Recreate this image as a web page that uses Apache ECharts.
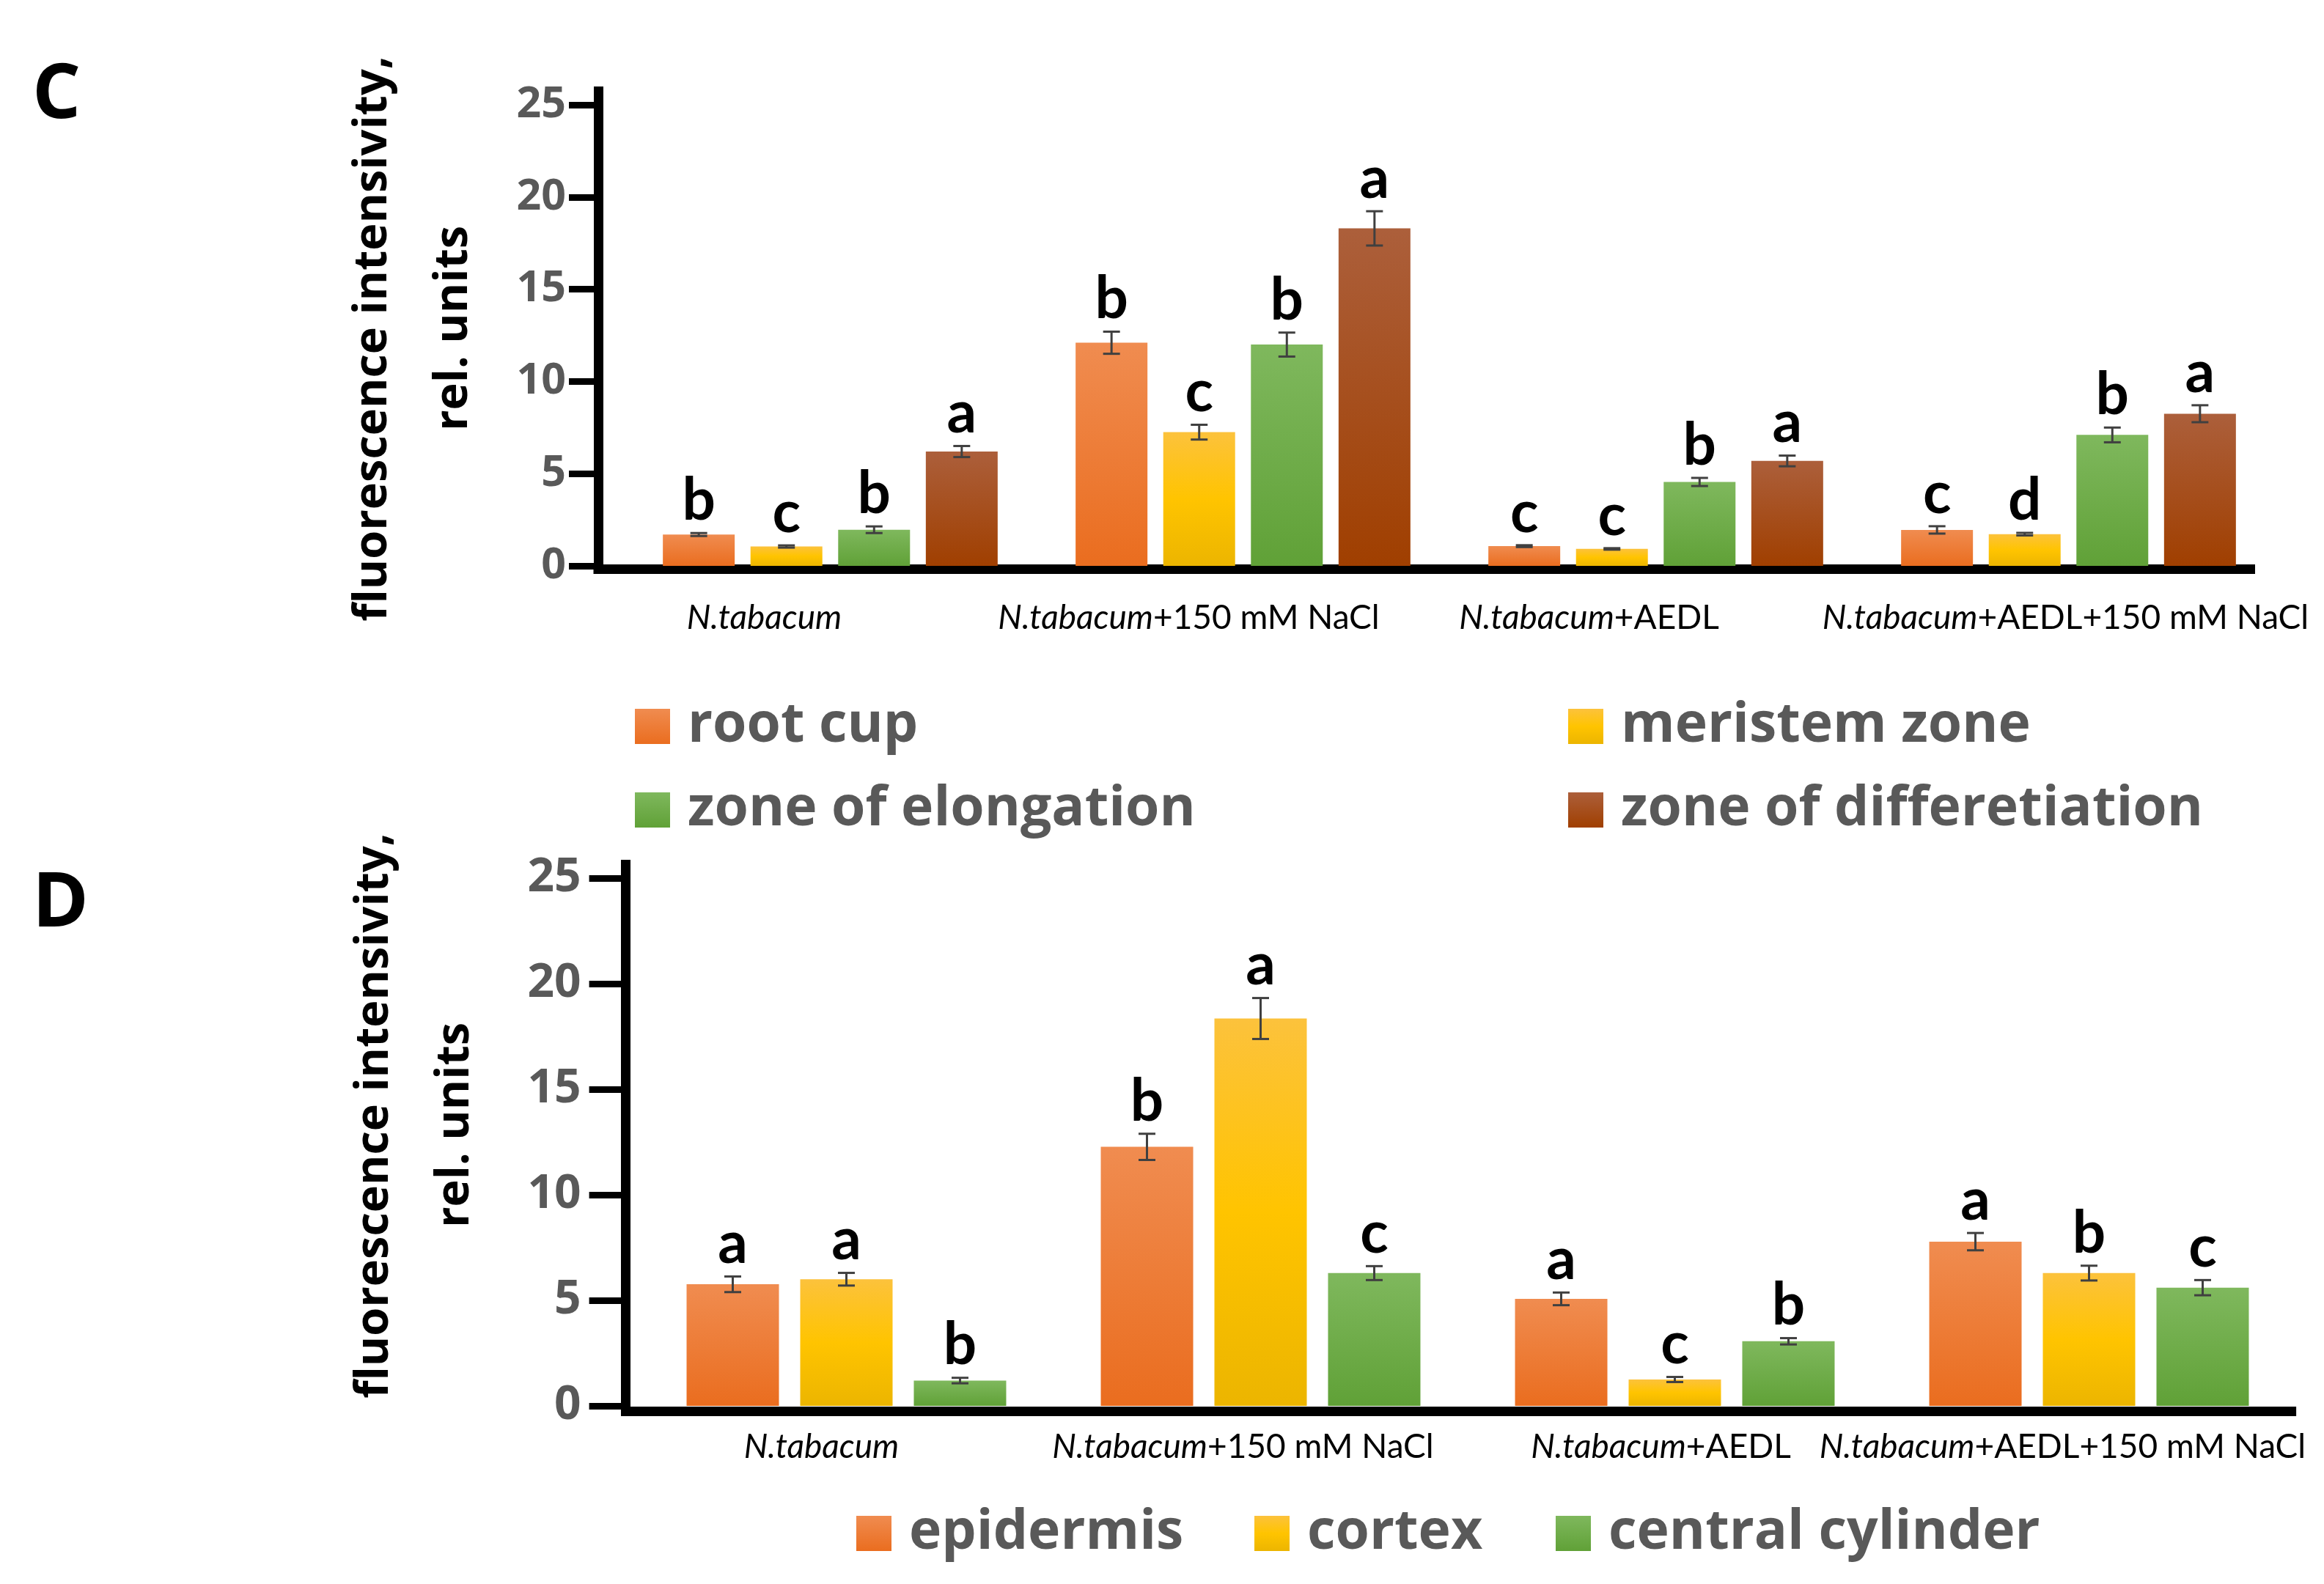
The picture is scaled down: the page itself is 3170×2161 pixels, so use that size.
<!DOCTYPE html>
<html>
<head>
<meta charset="utf-8">
<script src="https://cdn.jsdelivr.net/npm/echarts@6/dist/echarts.min.js"></script>
<style>html,body{margin:0;padding:0;background:#fff}#chart{width:3170px;height:2161px}</style>
</head>
<body>
<div id="chart"></div>
<script>
// ---------- DATA ----------
const categories = ['N.tabacum', 'N.tabacum+150 mM NaCl', 'N.tabacum+AEDL', 'N.tabacum+AEDL+150 mM NaCl'];
const yTicksMax = 25;
const yTickStep = 5;

// Panel C
const cNames = ['root cup', 'meristem zone', 'zone of elongation', 'zone of differetiation'];
const cRootCup = [1.7, 12.1, 1.07, 1.95];
const cRootCupErr = [0.08, 0.6, 0.05, 0.2];
const cRootCupLetters = ['b', 'b', 'c', 'c'];
const cMeristem = [1.05, 7.25, 0.92, 1.72];
const cMeristemErr = [0.06, 0.4, 0.04, 0.07];
const cMeristemLetters = ['c', 'c', 'c', 'd'];
const cElongation = [1.96, 12.0, 4.55, 7.1];
const cElongationErr = [0.18, 0.65, 0.22, 0.4];
const cElongationLetters = ['b', 'b', 'b', 'b'];
const cDiff = [6.2, 18.3, 5.69, 8.25];
const cDiffErr = [0.3, 0.93, 0.29, 0.46];
const cDiffLetters = ['a', 'a', 'a', 'a'];

// Panel D
const dNames = ['epidermis', 'cortex', 'central cylinder'];
const dEpidermis = [5.76, 12.27, 5.07, 7.78];
const dEpidermisErr = [0.37, 0.62, 0.3, 0.41];
const dEpidermisLetters = ['a', 'b', 'a', 'a'];
const dCortex = [6.0, 18.35, 1.25, 6.29];
const dCortexErr = [0.3, 0.97, 0.12, 0.35];
const dCortexLetters = ['a', 'a', 'c', 'b'];
const dCentral = [1.2, 6.29, 3.06, 5.6];
const dCentralErr = [0.13, 0.33, 0.15, 0.36];
const dCentralLetters = ['b', 'c', 'b', 'c'];

// ---------- STYLE / LAYOUT ----------
const labelShiftC = [-90, -74, -91, -4];
const labelShiftD = [-34, -24, -19, -36];
function grad(stops) {
  return new echarts.graphic.LinearGradient(0, 0, 0, 1,
    stops.map((c, i) => ({offset: i / (stops.length - 1), color: c})));
}
const cOrange = grad(['#F08C50', '#EA6D1F']);
const cYellow = grad(['#FCC23C', '#FFC400', '#ECB500']);
const cGreen = grad(['#7FB85D', '#60A137']);
const cBrown = grad(['#AC5F3B', '#A03F00']);

const tickFont = {fontFamily: '"Open Sans"', fontWeight: 'bold', color: '#595959'};
const legendText = {fontFamily: '"Open Sans"', fontWeight: 'bold', fontSize: 75, color: '#595959', lineHeight: 76, padding: [0, 0, 0, 19]};

function frameAxes(gi) {
  const common = {
    gridIndex: gi, type: 'value', min: 0, max: 1,
    axisLine: {show: true, onZero: false, lineStyle: {color: '#000', width: 13, cap: 'square'}},
    axisTick: {show: false}, axisLabel: {show: false}, splitLine: {show: false}
  };
  return {x: Object.assign({}, common), y: Object.assign({}, common)};
}

function catAxis(gi, shifts, margin) {
  return {
    gridIndex: gi, type: 'category',
    data: categories.map((c, i) => ({value: c, textStyle: {padding: [0, Math.abs(shifts[i]) * 2, 0, 0]}})),
    axisLine: {show: false}, axisTick: {show: false}, splitLine: {show: false},
    axisLabel: {
      interval: 0, hideOverlap: false, margin: margin,
      formatter: function (v) {
        const rest = v.replace('N.tabacum', '');
        return '{it|N.tabacum}' + (rest ? '{rg|' + rest + '}' : '');
      },
      rich: {
        it: {fontFamily: 'Lato', fontStyle: 'italic', fontSize: 46, color: '#000'},
        rg: {fontFamily: 'Lato', fontSize: 46, color: '#000'}
      }
    }
  };
}

function valAxis(gi, offset, tickLen, margin, fontSize) {
  return {
    gridIndex: gi, type: 'value', min: 0, max: yTicksMax, interval: yTickStep,
    position: 'left', offset: offset,
    axisLine: {show: false},
    axisTick: {show: true, length: tickLen, lineStyle: {color: '#000', width: 9}},
    axisLabel: Object.assign({margin: margin, fontSize: fontSize}, tickFont),
    splitLine: {show: false}
  };
}

function barSeries(name, xi, data, color, bw, gap) {
  return {
    name: name, type: 'bar', xAxisIndex: xi, yAxisIndex: xi, data: data,
    barWidth: bw, barGap: gap, itemStyle: {color: color}, silent: true, z: 2
  };
}

function errSeries(xi, vals, errs, letters, k, n, pitch) {
  return {
    type: 'custom', xAxisIndex: xi, yAxisIndex: xi, z: 5, silent: true,
    data: vals.map((v, i) => [i, v, errs[i]]),
    encode: {x: 0, y: 1},
    renderItem: function (params, api) {
      const i = api.value(0), v = api.value(1), e = api.value(2);
      const x = api.coord([i, v])[0] + (k - (n - 1) / 2) * pitch;
      const yt = api.coord([i, v + e])[1];
      const yb = api.coord([i, v - e])[1];
      const cw = 11.5;
      const st = {stroke: '#404040', lineWidth: 3};
      return {
        type: 'group', children: [
          {type: 'line', shape: {x1: x, y1: yt, x2: x, y2: yb}, style: st},
          {type: 'line', shape: {x1: x - cw, y1: yt, x2: x + cw, y2: yt}, style: st},
          {type: 'line', shape: {x1: x - cw, y1: yb, x2: x + cw, y2: yb}, style: st},
          {type: 'text', style: {text: letters[params.dataIndex], x: x, y: yt - 4,
            align: 'center', verticalAlign: 'bottom', font: 'bold 80px Lato', fill: '#000'}}
        ]
      };
    }
  };
}

function legendItem(name, left, top) {
  return {
    data: [name], left: left, top: top, orient: 'horizontal', padding: 0,
    itemWidth: 48, itemHeight: 48, icon: 'rect', selectedMode: false,
    textStyle: legendText
  };
}

const fC = frameAxes(0), fD = frameAxes(2);
const cBW = 98, cGap = '22%', cPitch = 98 * 1.22;
const dBW = 126, dGap = '23%', dPitch = 126 * 1.23;

const option = {
  backgroundColor: '#fff',
  animation: false,
  grid: [
    {left: 816, top: 124.5, width: 2253.5, height: 651.5, outerBoundsMode: 'none'},
    {left: 851, top: 143, width: 2252, height: 629, outerBoundsMode: 'none'},
    {left: 853.6, top: 1179.5, width: 2272, height: 745.5, outerBoundsMode: 'none'},
    {left: 872, top: 1198, width: 2260, height: 720, outerBoundsMode: 'none'}
  ],
  xAxis: [fC.x, catAxis(1, labelShiftC, 48), fD.x, catAxis(3, labelShiftD, 33)],
  yAxis: [fC.y, valAxis(1, 35, 40, 44, 59), fD.y, valAxis(3, 18.4, 50, 61, 64)],
  legend: [
    legendItem(cNames[0], 866, 953),
    legendItem(cNames[1], 2139, 953),
    legendItem(cNames[2], 866, 1067),
    legendItem(cNames[3], 2139, 1067),
    legendItem(dNames[0], 1168, 2054),
    legendItem(dNames[1], 1711, 2054),
    legendItem(dNames[2], 2122, 2054)
  ],
  series: [
    barSeries(cNames[0], 1, cRootCup, cOrange, cBW, cGap),
    barSeries(cNames[1], 1, cMeristem, cYellow, cBW, cGap),
    barSeries(cNames[2], 1, cElongation, cGreen, cBW, cGap),
    barSeries(cNames[3], 1, cDiff, cBrown, cBW, cGap),
    errSeries(1, cRootCup, cRootCupErr, cRootCupLetters, 0, 4, cPitch),
    errSeries(1, cMeristem, cMeristemErr, cMeristemLetters, 1, 4, cPitch),
    errSeries(1, cElongation, cElongationErr, cElongationLetters, 2, 4, cPitch),
    errSeries(1, cDiff, cDiffErr, cDiffLetters, 3, 4, cPitch),
    barSeries(dNames[0], 3, dEpidermis, cOrange, dBW, dGap),
    barSeries(dNames[1], 3, dCortex, cYellow, dBW, dGap),
    barSeries(dNames[2], 3, dCentral, cGreen, dBW, dGap),
    errSeries(3, dEpidermis, dEpidermisErr, dEpidermisLetters, 0, 3, dPitch),
    errSeries(3, dCortex, dCortexErr, dCortexLetters, 1, 3, dPitch),
    errSeries(3, dCentral, dCentralErr, dCentralLetters, 2, 3, dPitch)
  ],
  graphic: [
    {type: 'text', x: 44, y: 131, style: {text: 'C', font: 'bold 104px "Open Sans"', fill: '#000', align: 'left', verticalAlign: 'middle'}},
    {type: 'text', x: 44, y: 1234, style: {text: 'D', font: 'bold 104px "Open Sans"', fill: '#000', align: 'left', verticalAlign: 'middle'}},
    {type: 'text', x: 509, y: 462, rotation: Math.PI / 2, style: {text: 'fluorescence intensivity,', font: 'bold 63px "Open Sans"', fill: '#000', align: 'center', verticalAlign: 'middle'}},
    {type: 'text', x: 619, y: 448, rotation: Math.PI / 2, style: {text: 'rel. units', font: 'bold 63px "Open Sans"', fill: '#000', align: 'center', verticalAlign: 'middle'}},
    {type: 'text', x: 511, y: 1522, rotation: Math.PI / 2, style: {text: 'fluorescence intensivity,', font: 'bold 63px "Open Sans"', fill: '#000', align: 'center', verticalAlign: 'middle'}},
    {type: 'text', x: 621, y: 1535, rotation: Math.PI / 2, style: {text: 'rel. units', font: 'bold 63px "Open Sans"', fill: '#000', align: 'center', verticalAlign: 'middle'}}
  ]
};

const chart = echarts.init(document.getElementById('chart'), null, {renderer: 'canvas'});
chart.setOption(option);
</script>
</body>
</html>
